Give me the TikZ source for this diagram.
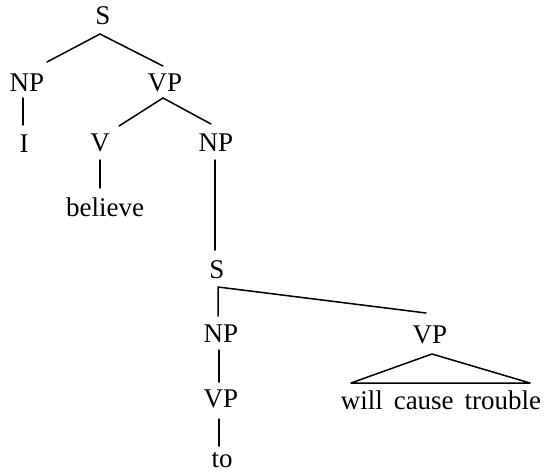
\documentclass[tikz,border=0pt]{standalone}
\usepackage{fontspec}
\setmainfont{Liberation Serif}
\usetikzlibrary{calc}
\begin{document}
\begin{tikzpicture}[x=1pt,y=-1pt,
  lab/.style={inner sep=0pt, anchor=base, font=\fontsize{27}{30}\selectfont},
  edge/.style={line width=1.5pt, line cap=round, line join=round}]
\path[use as bounding box, fill=white] (0,0) rectangle (546,474);
% nodes
\node[lab] (S)   at (103,24)  {S};
\node[lab] (NPa) at (27,91)   {NP};
\node[lab] (VPa) at (165,91)  {VP};
\node[lab] (I)   at (24,152)  {I};
\node[lab] (V)   at (100,151) {V};
\node[lab] (NPb) at (216,151) {NP};
\node[lab] (bel) at (105,216) {believe};
\node[lab] (Sb)  at (217,278) {S};
\node[lab] (NPc) at (221,342) {NP};
\node[lab] (VPr) at (430,343) {VP};
\node[lab] (VPc) at (221,407) {VP};
\node[lab] (to)  at (222,467) {to};
\node[lab] (wct) at (441,409) {will\hspace{0.4em}cause\hspace{0.4em}trouble};
% connectors
\draw[edge] ($(S.base)+(-3,10)$) -- ($(NPa.base)+(20,-29)$);
\draw[edge] ($(S.base)+(-3,10)$) -- ($(VPa.base)+(-2,-25)$);
\draw[edge] ($(NPa.base)+(-4,7)$) -- ($(I.base)+(-1,-27)$);
\draw[edge] ($(VPa.base)+(-2,7)$) -- ($(V.base)+(19,-25)$);
\draw[edge] ($(VPa.base)+(-2,7)$) -- ($(NPb.base)+(-5,-27)$);
\draw[edge] ($(V.base)+(0,9)$) -- ($(bel.base)+(-5,-28)$);
\draw[edge] ($(NPb.base)+(-1,9)$) -- ($(Sb.base)+(-2,-28)$);
\draw[edge] ($(NPc.base)+(-3,-26)$) -- ($(Sb.base)+(1,9)$) -- ($(VPr.base)+(-4,-30)$);
\draw[edge] ($(NPc.base)+(-2,8)$) -- ($(VPc.base)+(-2,-25)$);
\draw[edge] ($(VPc.base)+(-2,12)$) -- ($(to.base)+(-3,-21)$);
\draw[edge] ($(wct.base)+(-90,-26)$) -- ($(VPr.base)+(2,11)$) -- ($(wct.base)+(89,-26)$) -- cycle;
\end{tikzpicture}
\end{document}
